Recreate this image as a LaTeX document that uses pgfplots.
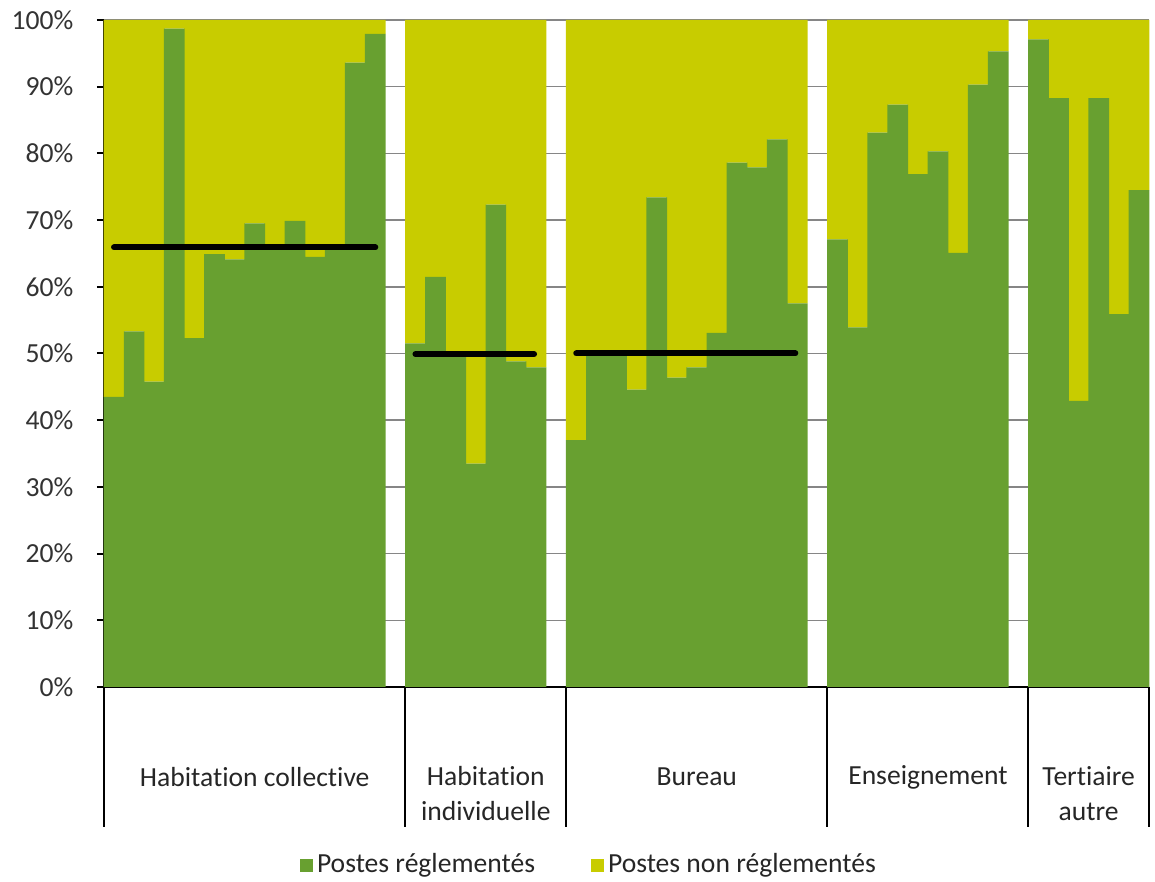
\documentclass[border=0pt]{standalone}
\usepackage{fontspec}
\setmainfont{Carlito}[Ligatures=NoCommon]
\usepackage{pgfplots}
\pgfplotsset{compat=1.18}
\definecolor{vert}{RGB}{104,160,48}
\definecolor{jaune}{RGB}{200,204,0}
\definecolor{grille}{RGB}{134,134,134}

\begin{document}
\fontsize{13.8}{16.8}\selectfont
\begin{tikzpicture}
\begin{axis}[
    at={(52pt,97.5pt)}, anchor=south west,
    width=522.5pt, height=333.5pt, scale only axis,
    ybar stacked, bar width=1.03,
    xmin=-0.5, xmax=51.5, ymin=0, ymax=100,
    axis x line*=bottom, axis y line*=left,
    axis line style={-, black, line width=1pt},
    xtick=\empty,
    ytick={0,10,...,100},
    yticklabel={\pgfmathprintnumber{\tick}\%},
    /pgf/number format/assume math mode=true,
    tick align=outside, major tick length=3.5pt,
    tick style={black, line width=1pt},
    yticklabel style={text=black!80, xshift=-7pt},
    ymajorgrids, grid style={grille, line width=0.75pt},
    clip=false,
    legend columns=2,
    legend style={at={(0.465,-0.267)}, anchor=center, draw=none, fill=none,
        text=black!85, /tikz/every even column/.append style={column sep=26pt}},
    legend image code/.code={\fill[#1] (0pt,-3.25pt) rectangle (6.5pt,3.25pt);},
]
% postes reglementes (%)
\addplot[fill=vert, draw=none] coordinates {
    (0,43.5) (1,53.3) (2,45.8) (3,98.7) (4,52.3) (5,64.9) (6,64.1)
    (7,69.5) (8,65.6) (9,69.9) (10,64.5) (11,65.6) (12,93.6) (13,97.9)
    (15,51.5) (16,61.5) (17,49.6) (18,33.5) (19,72.3) (20,48.8) (21,47.9)
    (23,37.0) (24,49.6) (25,49.6) (26,44.6) (27,73.4) (28,46.4) (29,47.9)
    (30,53.1) (31,78.6) (32,77.9) (33,82.1) (34,57.5)
    (36,67.1) (37,53.9) (38,83.1) (39,87.3) (40,76.9) (41,80.3) (42,65.1)
    (43,90.3) (44,95.3)
    (46,97.1) (47,88.3) (48,42.9) (49,88.3) (50,55.9) (51,74.5)
};
% postes non reglementes (%)
\addplot[fill=jaune, draw=none] coordinates {
    (0,56.5) (1,46.7) (2,54.2) (3,1.3) (4,47.7) (5,35.1) (6,35.9)
    (7,30.5) (8,34.4) (9,30.1) (10,35.5) (11,34.4) (12,6.4) (13,2.1)
    (15,48.5) (16,38.5) (17,50.4) (18,66.5) (19,27.7) (20,51.2) (21,52.1)
    (23,63.0) (24,50.4) (25,50.4) (26,55.4) (27,26.6) (28,53.6) (29,52.1)
    (30,46.9) (31,21.4) (32,22.1) (33,17.9) (34,42.5)
    (36,32.9) (37,46.1) (38,16.9) (39,12.7) (40,23.1) (41,19.7) (42,34.9)
    (43,9.7) (44,4.7)
    (46,2.9) (47,11.7) (48,57.1) (49,11.7) (50,44.1) (51,25.5)
};
\legend{Postes réglementés, Postes non réglementés}

% separateurs et noms des categories
\pgfplotsinvokeforeach{-0.5,14.5,22.5,35.5,45.5,51.5}{
    \draw[black, line width=1pt] (axis cs:#1,0) -- ([yshift=-70pt]axis cs:#1,0);
}
\node[text=black!85] at ([yshift=-45pt]axis cs:7,0) {Habitation collective};
\node[text=black!85, align=center, font=\fontsize{13.8}{17.5}\selectfont]
    at ([yshift=-53.5pt]axis cs:18.5,0) {Habitation\\individuelle};
\node[text=black!85] at ([yshift=-45pt]axis cs:29,0) {Bureau};
\node[text=black!85] at ([yshift=-45pt]axis cs:40.5,0) {Enseignement};
\node[text=black!85, align=center, font=\fontsize{13.8}{17.5}\selectfont]
    at ([yshift=-53.5pt]axis cs:48.5,0) {Tertiaire\\autre};
\end{axis}

% moyennes par categorie
\begin{axis}[
    at={(52pt,97.5pt)}, anchor=south west,
    width=522.5pt, height=333.5pt, scale only axis,
    xmin=-0.5, xmax=51.5, ymin=0, ymax=100,
    hide axis, clip=false,
]
\addplot[black, line width=3pt, line cap=round] coordinates {(0,65.9) (13,65.9)};
\addplot[black, line width=3pt, line cap=round] coordinates {(15,49.9) (20.9,49.9)};
\addplot[black, line width=3pt, line cap=round] coordinates {(23,50) (33.9,50)};
\end{axis}

\pgfresetboundingbox
\path (0,0) rectangle (577.5pt,441pt);
\end{tikzpicture}
\end{document}
